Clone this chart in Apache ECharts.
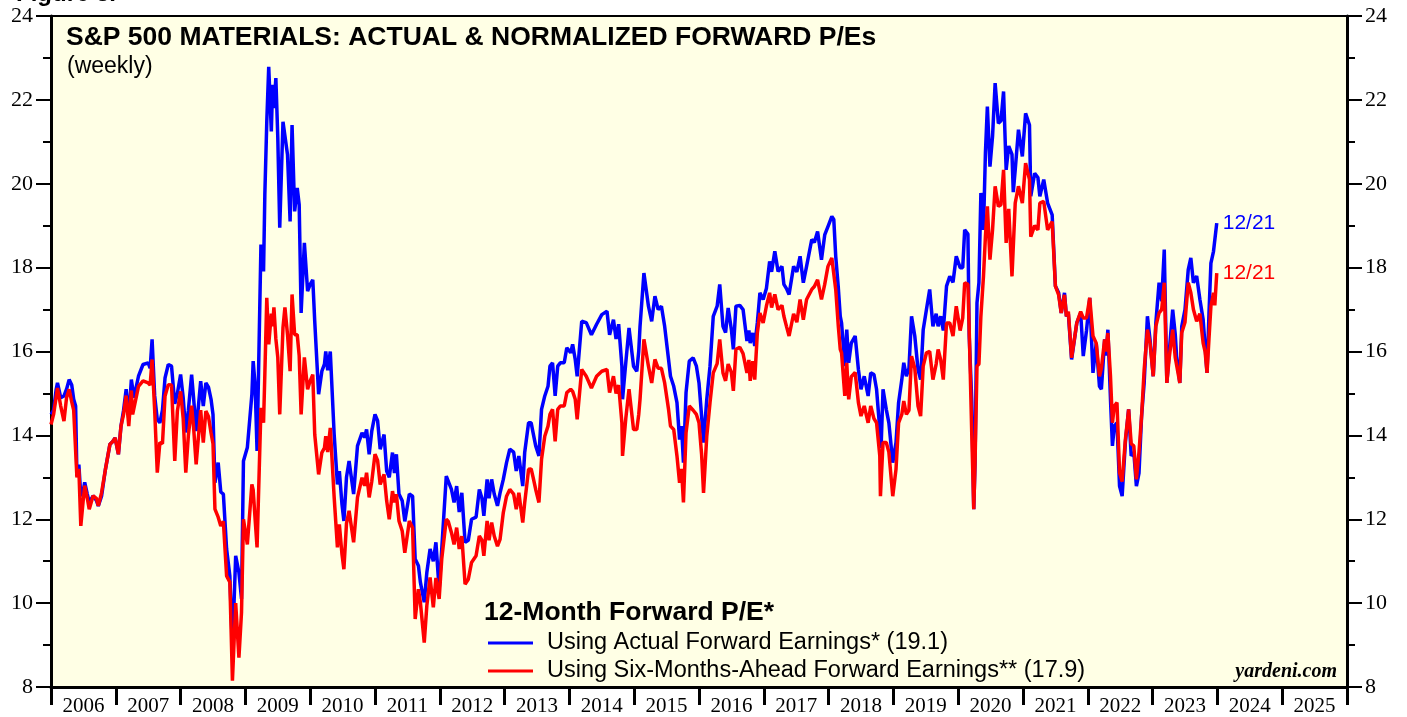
<!DOCTYPE html>
<html lang="en">
  <head>
    <meta charset="UTF-8" />
    <title>S&amp;P 500 Materials Forward P/E</title>
    <script src="https://cdn.jsdelivr.net/npm/echarts/dist/echarts.min.js"></script>
    <style>
      html, body { margin: 0; padding: 0; background: #fff; }
    </style>
  </head>
  <body>
    <div id="main" style="width: 1407px; height: 717px"></div>
  </body>
</html>
<script>
  // year bands on the x axis
  var years = ['2006', '2007', '2008', '2009', '2010', '2011', '2012', '2013', '2014', '2015',
    '2016', '2017', '2018', '2019', '2020', '2021', '2022', '2023', '2024', '2025']

  var yTicks = { min: 8, max: 24, step: 2 }

  // [decimal year, P/E]
  var actualPE = [
    [2006.0, 14.5], [2006.04, 14.6], [2006.08, 15.1], [2006.1, 15.25], [2006.15, 14.9], [2006.2, 14.94],
    [2006.24, 15.1], [2006.28, 15.33], [2006.32, 15.2], [2006.35, 14.86], [2006.38, 14.7], [2006.4, 13.03],
    [2006.43, 13.3], [2006.46, 12.55], [2006.5, 12.7], [2006.52, 12.88], [2006.56, 12.6], [2006.59, 12.4],
    [2006.65, 12.56], [2006.7, 12.45], [2006.73, 12.32], [2006.78, 12.55], [2006.84, 13.19], [2006.91, 13.79],
    [2006.95, 13.85], [2006.99, 13.94], [2007.04, 13.55], [2007.08, 14.22], [2007.12, 14.6], [2007.16, 15.1],
    [2007.2, 14.4], [2007.24, 15.33], [2007.28, 14.9], [2007.35, 15.41], [2007.42, 15.69], [2007.5, 15.73],
    [2007.53, 15.6], [2007.56, 16.29], [2007.6, 14.94], [2007.64, 14.38], [2007.68, 14.3], [2007.72, 14.6],
    [2007.76, 15.37], [2007.81, 15.69], [2007.86, 15.65], [2007.91, 14.75], [2007.95, 15.0], [2008.0, 15.45],
    [2008.04, 14.9], [2008.08, 14.07], [2008.12, 14.6], [2008.17, 15.45], [2008.2, 14.9], [2008.24, 14.1],
    [2008.31, 15.29], [2008.35, 14.7], [2008.39, 15.25], [2008.43, 15.15], [2008.47, 14.86], [2008.5, 14.5],
    [2008.53, 12.87], [2008.58, 13.35], [2008.62, 12.65], [2008.66, 12.6], [2008.71, 11.29], [2008.76, 10.65],
    [2008.8, 8.9], [2008.85, 11.13], [2008.9, 10.73], [2008.94, 10.1], [2008.97, 13.39], [2009.03, 13.71],
    [2009.06, 13.75], [2009.1, 14.98], [2009.12, 15.77], [2009.15, 15.2], [2009.18, 13.63], [2009.24, 18.55],
    [2009.28, 17.91], [2009.3, 19.74], [2009.33, 21.48], [2009.36, 22.79], [2009.4, 21.25], [2009.42, 22.36],
    [2009.44, 21.8], [2009.47, 22.52], [2009.5, 21.1], [2009.53, 18.95], [2009.58, 21.48], [2009.61, 21.5],
    [2009.65, 20.69], [2009.69, 19.1], [2009.72, 21.4], [2009.76, 19.34], [2009.8, 19.9], [2009.83, 19.5],
    [2009.86, 16.92], [2009.91, 18.59], [2009.96, 17.44], [2010.0, 17.6], [2010.04, 17.71], [2010.07, 16.72],
    [2010.13, 14.98], [2010.18, 15.53], [2010.22, 15.7], [2010.24, 16.0], [2010.27, 15.55], [2010.31, 16.0],
    [2010.37, 14.02], [2010.42, 12.83], [2010.45, 13.15], [2010.49, 12.36], [2010.52, 11.96], [2010.56, 13.0],
    [2010.6, 13.39], [2010.67, 12.6], [2010.73, 13.75], [2010.8, 14.06], [2010.84, 13.95], [2010.87, 14.14],
    [2010.91, 13.55], [2010.95, 14.1], [2011.0, 14.5], [2011.04, 14.35], [2011.08, 13.67], [2011.14, 14.02],
    [2011.18, 13.15], [2011.22, 13.0], [2011.27, 13.59], [2011.3, 13.1], [2011.33, 13.55], [2011.37, 12.6],
    [2011.42, 12.44], [2011.46, 11.95], [2011.53, 12.6], [2011.58, 12.55], [2011.62, 11.05], [2011.67, 10.89],
    [2011.7, 10.5], [2011.76, 10.02], [2011.8, 10.73], [2011.85, 11.29], [2011.9, 11.0], [2011.94, 11.45],
    [2011.99, 10.33], [2012.03, 11.29], [2012.1, 13.03], [2012.13, 13.0], [2012.18, 12.71], [2012.22, 12.4],
    [2012.26, 12.79], [2012.3, 12.17], [2012.34, 12.63], [2012.39, 11.45], [2012.44, 11.5], [2012.49, 12.0],
    [2012.56, 12.05], [2012.61, 12.71], [2012.65, 12.5], [2012.68, 12.08], [2012.73, 12.95], [2012.76, 12.5],
    [2012.8, 12.95], [2012.84, 12.6], [2012.89, 12.32], [2012.93, 12.63], [2012.98, 12.95], [2013.03, 13.35],
    [2013.08, 13.67], [2013.14, 13.6], [2013.18, 13.15], [2013.22, 13.51], [2013.28, 12.79], [2013.31, 13.59],
    [2013.37, 14.3], [2013.41, 14.3], [2013.44, 14.06], [2013.48, 13.75], [2013.53, 13.51], [2013.57, 14.62],
    [2013.62, 14.94], [2013.67, 15.17], [2013.7, 15.65], [2013.74, 15.73], [2013.78, 14.94], [2013.82, 15.65],
    [2013.86, 15.73], [2013.92, 15.73], [2013.96, 16.09], [2014.02, 15.97], [2014.05, 16.17], [2014.09, 15.81],
    [2014.12, 15.41], [2014.19, 16.72], [2014.26, 16.69], [2014.34, 16.4], [2014.42, 16.65], [2014.5, 16.88],
    [2014.58, 16.96], [2014.62, 16.4], [2014.68, 16.76], [2014.72, 16.3], [2014.76, 16.65], [2014.81, 15.65],
    [2014.82, 14.86], [2014.87, 15.73], [2014.92, 16.56], [2014.99, 15.65], [2015.04, 15.53], [2015.07, 16.0],
    [2015.09, 16.6], [2015.15, 17.87], [2015.22, 17.08], [2015.27, 16.72], [2015.32, 17.32], [2015.37, 17.0],
    [2015.42, 17.08], [2015.47, 16.6], [2015.53, 15.81], [2015.56, 15.41], [2015.61, 15.17], [2015.66, 14.78],
    [2015.7, 13.9], [2015.73, 14.22], [2015.76, 13.35], [2015.8, 15.02], [2015.85, 15.77], [2015.91, 15.85],
    [2015.96, 15.65], [2016.0, 15.25], [2016.04, 14.46], [2016.07, 13.83], [2016.12, 14.86], [2016.17, 15.65],
    [2016.22, 16.84], [2016.28, 17.08], [2016.32, 17.6], [2016.37, 16.6], [2016.41, 16.45], [2016.45, 17.04],
    [2016.5, 16.52], [2016.53, 16.05], [2016.57, 17.08], [2016.63, 17.1], [2016.68, 17.0], [2016.74, 16.25],
    [2016.77, 16.5], [2016.79, 16.2], [2016.83, 16.44], [2016.86, 16.13], [2016.9, 16.68], [2016.94, 17.4],
    [2016.99, 17.24], [2017.04, 17.5], [2017.09, 18.15], [2017.12, 17.9], [2017.17, 18.39], [2017.22, 17.91],
    [2017.28, 18.03], [2017.31, 17.6], [2017.35, 17.5], [2017.39, 17.36], [2017.46, 18.03], [2017.51, 17.9],
    [2017.56, 18.27], [2017.61, 17.64], [2017.66, 18.03], [2017.74, 18.67], [2017.78, 18.6], [2017.83, 18.86],
    [2017.89, 18.19], [2017.94, 18.78], [2017.99, 18.98], [2018.05, 19.22], [2018.08, 19.15], [2018.11, 18.27],
    [2018.15, 17.52], [2018.18, 16.84], [2018.2, 16.68], [2018.23, 16.68], [2018.25, 15.65], [2018.28, 16.52],
    [2018.31, 15.73], [2018.35, 16.2], [2018.41, 16.37], [2018.46, 15.57], [2018.5, 15.1], [2018.55, 15.41],
    [2018.61, 14.94], [2018.65, 15.49], [2018.7, 15.45], [2018.74, 15.1], [2018.79, 14.14], [2018.81, 13.7],
    [2018.84, 15.1], [2018.89, 14.62], [2018.93, 14.3], [2018.99, 13.35], [2019.04, 13.83], [2019.08, 14.78],
    [2019.13, 15.33], [2019.16, 15.73], [2019.2, 15.41], [2019.24, 15.6], [2019.28, 16.84], [2019.33, 16.37],
    [2019.38, 15.57], [2019.42, 15.33], [2019.46, 16.52], [2019.51, 17.0], [2019.56, 17.48], [2019.61, 16.6],
    [2019.66, 16.9], [2019.69, 16.6], [2019.73, 16.84], [2019.77, 16.5], [2019.82, 17.56], [2019.87, 17.79],
    [2019.92, 17.65], [2019.97, 18.27], [2020.03, 18.0], [2020.07, 18.0], [2020.1, 18.9], [2020.15, 18.8],
    [2020.17, 16.37], [2020.21, 14.8], [2020.24, 12.24], [2020.26, 13.35], [2020.29, 17.16], [2020.32, 17.64],
    [2020.35, 19.78], [2020.39, 18.9], [2020.42, 20.73], [2020.45, 21.84], [2020.49, 20.41], [2020.53, 21.13],
    [2020.57, 22.4], [2020.62, 21.44], [2020.66, 21.5], [2020.7, 22.2], [2020.74, 20.33], [2020.78, 20.9],
    [2020.83, 20.7], [2020.85, 19.8], [2020.88, 20.33], [2020.93, 21.29], [2020.99, 20.65], [2021.04, 21.68],
    [2021.1, 21.4], [2021.12, 19.7], [2021.18, 20.25], [2021.23, 20.15], [2021.26, 19.7], [2021.32, 20.1],
    [2021.38, 19.54], [2021.45, 19.26], [2021.5, 17.56], [2021.55, 17.4], [2021.59, 16.92], [2021.64, 17.4],
    [2021.67, 16.84], [2021.7, 16.9], [2021.75, 15.81], [2021.78, 15.8], [2021.83, 16.68], [2021.89, 16.92],
    [2021.93, 15.89], [2021.98, 16.5], [2022.03, 17.28], [2022.08, 15.49], [2022.13, 16.2], [2022.18, 15.17],
    [2022.21, 15.1], [2022.26, 16.29], [2022.28, 15.9], [2022.31, 16.52], [2022.35, 14.86], [2022.38, 13.75],
    [2022.41, 14.22], [2022.45, 14.3], [2022.49, 12.79], [2022.53, 12.55], [2022.58, 13.83], [2022.63, 14.62],
    [2022.67, 13.51], [2022.71, 13.6], [2022.75, 12.79], [2022.79, 13.1], [2022.83, 14.46], [2022.87, 15.25],
    [2022.92, 16.84], [2022.96, 16.29], [2023.01, 15.41], [2023.05, 16.68], [2023.1, 17.64], [2023.14, 17.2],
    [2023.18, 18.43], [2023.22, 15.25], [2023.26, 16.05], [2023.31, 17.0], [2023.35, 16.4], [2023.37, 15.89],
    [2023.42, 15.25], [2023.45, 16.6], [2023.5, 17.0], [2023.55, 17.95], [2023.59, 18.23], [2023.63, 17.64],
    [2023.68, 17.8], [2023.73, 17.24], [2023.78, 16.76], [2023.81, 16.76], [2023.84, 15.49], [2023.87, 16.9],
    [2023.9, 18.11], [2023.94, 18.39], [2023.96, 18.35], [2023.99, 19.06]
  ]

  var normalizedPE = [
    [2006.0, 14.26], [2006.04, 14.5], [2006.1, 15.13], [2006.15, 14.7], [2006.2, 14.34], [2006.24, 14.9],
    [2006.28, 15.1], [2006.32, 14.8], [2006.35, 14.6], [2006.4, 13.0], [2006.43, 13.2], [2006.46, 11.84],
    [2006.5, 12.5], [2006.52, 12.8], [2006.56, 12.5], [2006.59, 12.24], [2006.65, 12.56], [2006.7, 12.5],
    [2006.73, 12.32], [2006.78, 12.63], [2006.84, 13.19], [2006.91, 13.79], [2006.95, 13.85], [2006.99, 13.94],
    [2007.04, 13.55], [2007.08, 14.22], [2007.12, 14.5], [2007.16, 14.95], [2007.2, 14.22], [2007.24, 15.07],
    [2007.26, 14.5], [2007.35, 15.17], [2007.42, 15.3], [2007.5, 15.25], [2007.53, 15.2], [2007.56, 15.81],
    [2007.6, 14.6], [2007.64, 13.11], [2007.68, 13.83], [2007.72, 13.8], [2007.76, 14.94], [2007.81, 15.21],
    [2007.86, 15.2], [2007.91, 13.39], [2007.95, 14.58], [2008.0, 15.05], [2008.04, 14.4], [2008.08, 13.11],
    [2008.12, 14.0], [2008.17, 14.71], [2008.2, 14.2], [2008.24, 13.31], [2008.31, 14.6], [2008.35, 13.83],
    [2008.39, 14.58], [2008.43, 14.45], [2008.47, 14.06], [2008.5, 13.8], [2008.53, 12.24], [2008.58, 12.05],
    [2008.62, 11.84], [2008.66, 11.95], [2008.71, 10.65], [2008.76, 10.5], [2008.8, 8.15], [2008.85, 10.0],
    [2008.9, 8.7], [2008.94, 9.78], [2008.97, 12.0], [2009.03, 11.4], [2009.06, 11.36], [2009.1, 12.83],
    [2009.12, 12.7], [2009.15, 12.0], [2009.18, 11.33], [2009.24, 14.66], [2009.28, 14.3], [2009.3, 15.45],
    [2009.33, 17.28], [2009.36, 16.17], [2009.4, 16.9], [2009.42, 16.6], [2009.44, 17.05], [2009.47, 16.3],
    [2009.5, 15.86], [2009.53, 14.5], [2009.58, 16.57], [2009.61, 17.05], [2009.65, 16.4], [2009.69, 15.53],
    [2009.72, 17.36], [2009.76, 16.4], [2009.8, 16.4], [2009.83, 15.9], [2009.86, 14.5], [2009.91, 15.86],
    [2009.96, 15.1], [2010.0, 15.3], [2010.04, 15.45], [2010.07, 14.02], [2010.13, 13.07], [2010.18, 13.59],
    [2010.22, 13.7], [2010.24, 13.98], [2010.27, 13.6], [2010.31, 14.18], [2010.37, 12.52], [2010.42, 11.33],
    [2010.45, 11.88], [2010.49, 11.17], [2010.52, 10.81], [2010.56, 11.9], [2010.6, 12.2], [2010.67, 11.45],
    [2010.73, 12.52], [2010.8, 12.99], [2010.84, 12.8], [2010.87, 13.11], [2010.91, 12.52], [2010.95, 12.9],
    [2011.0, 13.55], [2011.04, 13.4], [2011.08, 12.83], [2011.14, 13.07], [2011.18, 12.44], [2011.22, 12.0],
    [2011.27, 12.67], [2011.3, 12.4], [2011.33, 12.6], [2011.37, 11.96], [2011.42, 11.72], [2011.46, 11.2],
    [2011.53, 11.96], [2011.58, 11.8], [2011.62, 9.62], [2011.67, 10.33], [2011.7, 10.02], [2011.76, 9.06],
    [2011.8, 9.94], [2011.85, 10.61], [2011.9, 9.9], [2011.94, 10.6], [2011.99, 10.1], [2012.03, 11.05],
    [2012.1, 12.0], [2012.13, 11.95], [2012.18, 11.68], [2012.22, 11.4], [2012.26, 11.8], [2012.3, 11.29],
    [2012.34, 11.6], [2012.39, 10.45], [2012.44, 10.57], [2012.49, 10.97], [2012.56, 11.13], [2012.61, 11.6],
    [2012.65, 11.5], [2012.68, 11.13], [2012.73, 11.96], [2012.76, 11.5], [2012.8, 11.92], [2012.84, 11.6],
    [2012.89, 11.36], [2012.93, 11.52], [2012.98, 12.16], [2013.03, 12.55], [2013.08, 12.71], [2013.14, 12.6],
    [2013.18, 12.24], [2013.22, 12.63], [2013.28, 11.92], [2013.31, 12.39], [2013.37, 13.19], [2013.41, 13.2],
    [2013.44, 13.0], [2013.48, 12.71], [2013.53, 12.4], [2013.57, 13.43], [2013.62, 13.98], [2013.67, 14.22],
    [2013.7, 14.5], [2013.74, 14.62], [2013.78, 13.86], [2013.82, 14.62], [2013.86, 14.7], [2013.92, 14.7],
    [2013.96, 15.02], [2014.02, 15.1], [2014.05, 15.05], [2014.09, 14.86], [2014.12, 14.38], [2014.19, 15.57],
    [2014.26, 15.41], [2014.34, 15.13], [2014.42, 15.41], [2014.5, 15.53], [2014.58, 15.57], [2014.62, 15.02],
    [2014.68, 15.41], [2014.72, 15.0], [2014.76, 15.2], [2014.81, 14.3], [2014.82, 13.51], [2014.87, 14.4],
    [2014.92, 15.1], [2014.99, 14.14], [2015.04, 14.14], [2015.07, 14.5], [2015.09, 14.86], [2015.15, 16.29],
    [2015.22, 15.65], [2015.27, 15.25], [2015.32, 15.81], [2015.37, 15.6], [2015.42, 15.6], [2015.47, 15.25],
    [2015.53, 14.62], [2015.56, 14.22], [2015.61, 14.14], [2015.66, 13.51], [2015.7, 12.87], [2015.73, 13.2],
    [2015.76, 12.4], [2015.8, 14.06], [2015.85, 14.7], [2015.91, 14.6], [2015.96, 14.5], [2016.0, 14.3],
    [2016.04, 13.55], [2016.07, 12.63], [2016.12, 13.98], [2016.17, 14.78], [2016.22, 15.49], [2016.28, 15.71],
    [2016.32, 16.29], [2016.37, 15.49], [2016.41, 15.3], [2016.45, 15.7], [2016.5, 15.5], [2016.53, 15.06],
    [2016.57, 16.05], [2016.63, 16.1], [2016.68, 15.95], [2016.74, 15.49], [2016.77, 15.8], [2016.79, 15.3],
    [2016.83, 15.77], [2016.86, 15.33], [2016.9, 16.44], [2016.94, 16.92], [2016.99, 16.68], [2017.04, 17.08],
    [2017.09, 17.4], [2017.12, 17.05], [2017.17, 17.36], [2017.22, 17.0], [2017.28, 17.1], [2017.31, 16.84],
    [2017.35, 16.6], [2017.39, 16.37], [2017.46, 16.9], [2017.51, 16.7], [2017.56, 17.24], [2017.61, 16.76],
    [2017.66, 17.24], [2017.74, 17.48], [2017.78, 17.55], [2017.83, 17.71], [2017.89, 17.24], [2017.94, 17.6],
    [2017.99, 18.03], [2018.05, 18.23], [2018.08, 18.2], [2018.11, 17.48], [2018.15, 16.6], [2018.18, 16.05],
    [2018.2, 15.97], [2018.23, 15.97], [2018.25, 14.94], [2018.28, 15.73], [2018.31, 14.86], [2018.35, 15.4],
    [2018.41, 15.5], [2018.46, 14.78], [2018.5, 14.46], [2018.55, 14.7], [2018.61, 14.3], [2018.65, 14.7],
    [2018.7, 14.4], [2018.74, 14.3], [2018.79, 13.51], [2018.8, 12.55], [2018.84, 13.83], [2018.89, 13.83],
    [2018.93, 13.6], [2018.99, 12.55], [2019.04, 13.19], [2019.08, 14.3], [2019.13, 14.5], [2019.16, 14.82],
    [2019.2, 14.5], [2019.24, 14.6], [2019.28, 15.89], [2019.33, 15.6], [2019.38, 14.7], [2019.42, 14.46],
    [2019.46, 15.65], [2019.51, 15.97], [2019.56, 16.0], [2019.61, 15.33], [2019.66, 15.7], [2019.69, 16.05],
    [2019.73, 15.8], [2019.77, 15.33], [2019.82, 16.68], [2019.87, 16.68], [2019.92, 16.37], [2019.97, 17.08],
    [2020.03, 16.5], [2020.07, 16.8], [2020.1, 17.64], [2020.15, 17.6], [2020.17, 16.5], [2020.21, 14.0],
    [2020.24, 12.24], [2020.26, 13.35], [2020.29, 15.65], [2020.32, 15.7], [2020.35, 16.84], [2020.39, 17.79],
    [2020.42, 18.74], [2020.45, 19.46], [2020.49, 18.19], [2020.53, 18.9], [2020.57, 19.94], [2020.62, 19.46],
    [2020.66, 19.5], [2020.7, 20.33], [2020.74, 18.59], [2020.78, 19.4], [2020.83, 17.79], [2020.85, 17.8],
    [2020.88, 19.54], [2020.93, 19.94], [2020.99, 19.54], [2021.04, 20.49], [2021.1, 20.1], [2021.12, 18.74],
    [2021.18, 19.0], [2021.23, 18.9], [2021.26, 19.54], [2021.32, 19.58], [2021.38, 18.9], [2021.45, 19.1],
    [2021.5, 17.56], [2021.55, 17.35], [2021.59, 16.92], [2021.64, 17.35], [2021.67, 16.84], [2021.7, 16.95],
    [2021.75, 15.85], [2021.78, 15.85], [2021.83, 16.68], [2021.89, 16.95], [2021.93, 16.8], [2021.98, 16.8],
    [2022.03, 17.28], [2022.08, 16.37], [2022.13, 16.2], [2022.18, 15.41], [2022.21, 15.6], [2022.26, 16.29],
    [2022.28, 16.0], [2022.31, 16.44], [2022.35, 15.41], [2022.38, 14.3], [2022.41, 14.7], [2022.45, 14.78],
    [2022.49, 13.11], [2022.53, 12.9], [2022.58, 13.9], [2022.63, 14.62], [2022.67, 13.8], [2022.71, 13.75],
    [2022.75, 12.95], [2022.79, 13.6], [2022.83, 14.46], [2022.87, 15.57], [2022.92, 16.52], [2022.96, 16.2],
    [2023.01, 15.41], [2023.05, 16.6], [2023.1, 16.92], [2023.14, 17.0], [2023.18, 17.64], [2023.22, 15.25],
    [2023.26, 15.9], [2023.31, 16.52], [2023.35, 15.85], [2023.37, 15.89], [2023.42, 15.25], [2023.45, 16.45],
    [2023.5, 16.7], [2023.55, 17.64], [2023.59, 17.4], [2023.63, 17.0], [2023.68, 16.72], [2023.73, 16.9],
    [2023.78, 16.2], [2023.81, 16.0], [2023.84, 15.49], [2023.87, 16.3], [2023.9, 17.08], [2023.94, 17.4],
    [2023.96, 17.1], [2023.99, 17.87]
  ]

  var seriesNames = [
    'Using Actual Forward Earnings* (19.1)',
    'Using Six-Months-Ahead Forward Earnings** (17.9)'
  ]
  var lastDate = '12/21'

  const sans = 'Liberation Sans, Arial, sans-serif'
  const serif = 'Liberation Serif, Times New Roman, serif'

  const chartInstance = echarts.init(document.getElementById('main'))

  function yAxisFor(position) {
    return {
      type: 'value',
      position: position,
      min: yTicks.min,
      max: yTicks.max,
      interval: yTicks.step,
      axisLine: { show: true, lineStyle: { color: '#000', width: 3 } },
      axisTick: { show: true, length: 15, lineStyle: { color: '#000', width: 2 } },
      minorTick: { show: true, splitNumber: 2, length: 8, lineStyle: { color: '#000', width: 2 } },
      splitLine: { show: false },
      axisLabel: { color: '#000', fontFamily: serif, fontSize: 22, margin: 18 }
    }
  }

  const option = {
    animation: false,
    backgroundColor: '#fff',
    grid: {
      left: 51,
      right: 60,
      top: 16,
      bottom: 29,
      show: true,
      backgroundColor: '#FFFFE5',
      borderColor: '#000',
      borderWidth: 2
    },
    xAxis: [
      {
        type: 'category',
        data: years,
        boundaryGap: true,
        axisLine: { lineStyle: { color: '#000', width: 3 } },
        axisTick: { show: true, interval: 0, alignWithLabel: false, length: 18, lineStyle: { color: '#000', width: 3 } },
        axisLabel: { interval: 0, color: '#000', fontFamily: serif, fontSize: 21, margin: 9 }
      },
      { type: 'value', min: 2006, max: 2026, show: false }
    ],
    yAxis: [yAxisFor('left'), yAxisFor('right')],
    legend: {
      left: 483,
      top: 626,
      orient: 'vertical',
      icon: 'rect',
      itemWidth: 45,
      itemHeight: 3,
      itemGap: 4,
      selectedMode: false,
      data: seriesNames,
      textStyle: { color: '#000', fontFamily: sans, fontSize: 23.5, padding: [0, 0, 0, 9] }
    },
    graphic: [
      {
        type: 'text', left: 16, top: -18,
        style: { text: 'Figure 3.', font: 'bold 24px ' + sans, fill: '#000' }
      },
      {
        type: 'text', left: 66, top: 24,
        style: { text: 'S&P 500 MATERIALS: ACTUAL & NORMALIZED FORWARD P/Es', font: 'bold 26.5px ' + sans, fill: '#000' }
      },
      {
        type: 'text', left: 67, top: 55,
        style: { text: '(weekly)', font: '23px ' + sans, fill: '#000' }
      },
      {
        type: 'text', left: 484, top: 599,
        style: { text: '12-Month Forward P/E*', font: 'bold 26.5px ' + sans, fill: '#000' }
      },
      {
        type: 'text', right: 70, top: 662,
        style: { text: 'yardeni.com', font: 'italic bold 20px ' + serif, fill: '#000' }
      }
    ],
    series: [
      {
        name: seriesNames[0],
        type: 'line',
        xAxisIndex: 1,
        yAxisIndex: 0,
        data: actualPE,
        showSymbol: false,
        color: '#0000FF',
        lineStyle: { width: 3.5, color: '#0000FF' },
        endLabel: { show: true, formatter: lastDate, color: '#0000FF', fontFamily: sans, fontSize: 21, distance: 6 }
      },
      {
        name: seriesNames[1],
        type: 'line',
        xAxisIndex: 1,
        yAxisIndex: 0,
        data: normalizedPE,
        showSymbol: false,
        color: '#FF0000',
        lineStyle: { width: 3.5, color: '#FF0000' },
        endLabel: { show: true, formatter: lastDate, color: '#FF0000', fontFamily: sans, fontSize: 21, distance: 6 }
      }
    ]
  }

  chartInstance.setOption(option)

  window.addEventListener('resize', () => {
    chartInstance.resize()
  })
</script>
